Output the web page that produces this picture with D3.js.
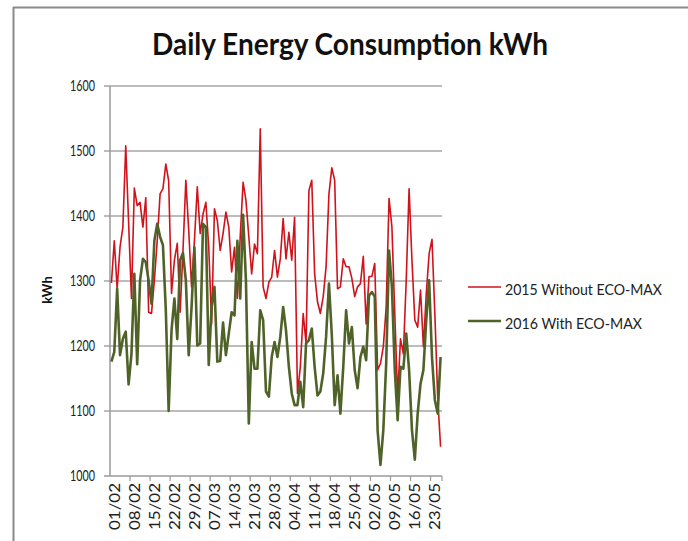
<!DOCTYPE html>
<html>
<head>
<meta charset="utf-8">
<script src="https://cdn.jsdelivr.net/npm/d3@7"></script>
<style>
  body { margin: 0; background: #fff; }
  svg { display: block; font-family: Lato, "Open Sans", sans-serif; }
</style>
</head>
<body>
<div id="chartArea"></div>
<script>
///////////////////////////// DATA /////////////////////////////////////

var startDate = new Date(2016, 1, 1);   // 01/02, one value per day
var dayCount = 116;

var yTicks = [1000, 1100, 1200, 1300, 1400, 1500, 1600];

var seriesNames = ["2015 Without ECO-MAX", "2016 With ECO-MAX"];

var kwh2015 = [
  1297, 1362, 1288, 1352, 1383, 1508, 1390, 1273, 1443, 1416,
  1421, 1383, 1428, 1252, 1250, 1301, 1362, 1434, 1442, 1480,
  1454, 1281, 1332, 1358, 1252, 1347, 1455, 1378, 1291, 1362,
  1445, 1373, 1403, 1421, 1352, 1234, 1411, 1393, 1347, 1373,
  1406, 1383, 1314, 1352, 1273, 1368, 1452, 1424, 1368, 1311,
  1357, 1342, 1534, 1291, 1273, 1298, 1306, 1347, 1306, 1334,
  1396, 1334, 1375, 1332, 1398, 1127, 1168, 1250, 1204, 1439,
  1455, 1311, 1268, 1250, 1276, 1322, 1434, 1474, 1455, 1288,
  1291, 1334, 1322, 1322, 1304, 1276, 1291, 1296, 1338, 1234,
  1307, 1307, 1327, 1163, 1173, 1199, 1260, 1427, 1383, 1250,
  1122, 1211, 1188, 1301, 1442, 1332, 1240, 1229, 1286, 1199,
  1280, 1342, 1364, 1250, 1120, 1045
];

var kwh2016 = [
  1176, 1191, 1288, 1186, 1211, 1222, 1141, 1188, 1311, 1172,
  1301, 1334, 1329, 1301, 1265, 1362, 1388, 1368, 1355, 1255,
  1100, 1224, 1273, 1211, 1332, 1343, 1301, 1186, 1260, 1352,
  1201, 1204, 1388, 1383, 1171, 1260, 1291, 1176, 1177, 1236,
  1186, 1219, 1252, 1247, 1362, 1273, 1402, 1300, 1081, 1206,
  1165, 1165, 1255, 1240, 1130, 1122, 1183, 1206, 1183, 1214,
  1260, 1224, 1168, 1127, 1109, 1109, 1145, 1106, 1204, 1209,
  1227, 1168, 1124, 1130, 1158, 1214, 1296, 1217, 1109, 1155,
  1096, 1168, 1255, 1204, 1229, 1163, 1135, 1183, 1199, 1178,
  1278, 1283, 1276, 1070, 1017, 1071, 1173, 1347, 1291, 1163,
  1086, 1168, 1165, 1219, 1163, 1071, 1025, 1096, 1142, 1163,
  1240, 1301, 1183, 1117, 1096, 1183
];

var seriesColors = ["#d0121b", "#4f6228"];
var seriesWidths = [1.6, 2.6];

///////////////////////////// LAYOUT /////////////////////////////////////

var W = 688, H = 541;
var plot = { left: 110, right: 442, top: 86, bottom: 476 };

var fmt = d3.timeFormat("%d/%m");
var dates = d3.range(dayCount).map(function(i) {
  return fmt(d3.timeDay.offset(startDate, i));
});

var x = d3.scaleBand().domain(dates).range([plot.left, plot.right]).padding(0);
var y = d3.scaleLinear().domain([1000, 1600]).range([plot.bottom, plot.top]);

var svg = d3.select("#chartArea").append("svg")
  .attr("width", W)
  .attr("height", H);

// frame of the pasted picture
svg.append("line")
  .attr("x1", 13).attr("x2", W).attr("y1", 7.5).attr("y2", 7.5)
  .style("stroke", "#8a8a8a").style("stroke-width", 2);
svg.append("line")
  .attr("x1", 13.5).attr("x2", 13.5).attr("y1", 7).attr("y2", H)
  .style("stroke", "#8a8a8a").style("stroke-width", 2);

// title
svg.append("text")
  .attr("x", 350).attr("y", 55)
  .attr("text-anchor", "middle")
  .attr("textLength", 396)
  .attr("lengthAdjust", "spacingAndGlyphs")
  .style("font-size", "30px")
  .style("font-weight", "bold")
  .style("fill", "#111")
  .text("Daily Energy Consumption kWh");

///////////////////////////// AXES /////////////////////////////////////

// gridlines
svg.append("g").selectAll("line")
  .data(yTicks)
  .enter().append("line")
  .attr("x1", plot.left - 6)
  .attr("x2", plot.right)
  .attr("y1", function(d) { return y(d); })
  .attr("y2", function(d) { return y(d); })
  .style("stroke", function(d) { return d === 1000 ? "#9a9a9a" : "#a6a6a6"; })
  .style("stroke-width", 1.5);

// y axis line
svg.append("line")
  .attr("x1", plot.left).attr("x2", plot.left)
  .attr("y1", plot.top).attr("y2", plot.bottom)
  .style("stroke", "#9a9a9a").style("stroke-width", 1.5);

// y labels
svg.append("g").selectAll("text")
  .data(yTicks)
  .enter().append("text")
  .attr("x", 95)
  .attr("y", function(d) { return y(d); })
  .attr("dy", "0.36em")
  .attr("text-anchor", "end")
  .attr("textLength", 25)
  .attr("lengthAdjust", "spacingAndGlyphs")
  .style("font-size", "15px")
  .style("fill", "#222")
  .text(function(d) { return d; });

svg.append("text")
  .attr("transform", "translate(" + 47 + "," + 290 + ") rotate(-90)")
  .attr("text-anchor", "middle")
  .attr("dy", "0.35em")
  .style("font-size", "13px")
  .style("font-weight", "bold")
  .style("fill", "#111")
  .text("kWh");

// x ticks every 7 days, at the category borders
var weekIdx = d3.range(7, dayCount, 7).concat([dayCount]);
svg.append("g").selectAll("line")
  .data(weekIdx)
  .enter().append("line")
  .attr("x1", function(i) { return plot.left + i * x.bandwidth(); })
  .attr("x2", function(i) { return plot.left + i * x.bandwidth(); })
  .attr("y1", plot.bottom)
  .attr("y2", plot.bottom + 5)
  .style("stroke", "#9a9a9a").style("stroke-width", 1.2);

// x labels
var labelIdx = d3.range(0, dayCount, 7);
svg.append("g").selectAll("text")
  .data(labelIdx)
  .enter().append("text")
  .attr("transform", function(i) {
    return "translate(" + (x(dates[i]) + x.bandwidth() / 2 + 3) + "," + (plot.bottom + 7) + ") rotate(-90)";
  })
  .attr("dy", "0.36em")
  .attr("text-anchor", "end")
  .attr("textLength", 47)
  .attr("lengthAdjust", "spacingAndGlyphs")
  .style("font-size", "15px")
  .style("fill", "#222")
  .text(function(i) { return dates[i]; });

///////////////////////////// LINES /////////////////////////////////////

var line = d3.line()
  .x(function(d, i) { return x(dates[i]) + x.bandwidth() / 2; })
  .y(function(d) { return y(d); });

[kwh2015, kwh2016].forEach(function(s, k) {
  svg.append("path")
    .datum(s)
    .attr("d", line)
    .style("fill", "none")
    .style("stroke", seriesColors[k])
    .style("stroke-width", seriesWidths[k])
    .style("stroke-linejoin", "round");
});

///////////////////////////// LEGEND /////////////////////////////////////

var legendLen = [157, 137];
var legend = svg.selectAll(".legend")
  .data(seriesNames)
  .enter().append("g")
  .attr("class", "legend")
  .attr("transform", function(d, i) { return "translate(468," + (287 + i * 34) + ")"; });

legend.append("line")
  .attr("x1", 0).attr("x2", 33)
  .style("stroke", function(d, i) { return seriesColors[i]; })
  .style("stroke-width", function(d, i) { return seriesWidths[i]; });

legend.append("text")
  .attr("x", 37)
  .attr("y", 8)
  .attr("textLength", function(d, i) { return legendLen[i]; })
  .attr("lengthAdjust", "spacingAndGlyphs")
  .style("font-size", "16px")
  .style("fill", "#222")
  .text(function(d) { return d; });
</script>
</body>
</html>
